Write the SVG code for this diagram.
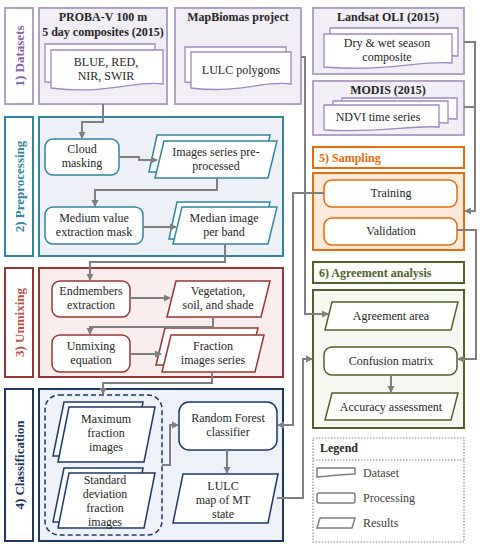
<svg xmlns="http://www.w3.org/2000/svg" width="485" height="550" viewBox="0 0 485 550">
<defs>
<marker id="ah" markerWidth="8" markerHeight="8" refX="6" refY="4" orient="auto" markerUnits="userSpaceOnUse">
<path d="M0,0.5 L7,4 L0,7.5 Z" fill="#7f7f7f"/>
</marker>
</defs>
<style>
text{font-family:"Liberation Serif","Times New Roman",serif;font-size:12px;fill:#262626}
.c{text-anchor:middle}
.b{font-weight:bold}
.lab{font-weight:bold;font-size:13px;text-anchor:middle}
.pu{fill:#f1eef6;stroke:#b3a2c7;stroke-width:2}
.pul{fill:#fff;stroke:#b3a2c7;stroke-width:2}
.doc{fill:#fff;stroke:#9d88c0;stroke-width:1.3}
.te{fill:#edf1f7;stroke:#31859c;stroke-width:2}
.tel{fill:#fff;stroke:#31859c;stroke-width:2}
.ten{fill:#fff;stroke:#31859c;stroke-width:1.5}
.re{fill:#f9ecec;stroke:#953735;stroke-width:2}
.rel{fill:#fff;stroke:#953735;stroke-width:2}
.ren{fill:#fff;stroke:#953735;stroke-width:1.5}
.na{fill:#eef2f8;stroke:#1f3864;stroke-width:2}
.nal{fill:#fff;stroke:#1f3864;stroke-width:2}
.nan{fill:#fff;stroke:#1f3864;stroke-width:1.5}
.or{fill:#fde9d9;stroke:#e46c0a;stroke-width:2}
.orl{fill:#fff;stroke:#e46c0a;stroke-width:2}
.orn{fill:#fff;stroke:#e46c0a;stroke-width:1.5}
.gr{fill:#f6f7f0;stroke:#4f6228;stroke-width:2}
.grl{fill:#fff;stroke:#4f6228;stroke-width:2}
.grn{fill:#fff;stroke:#4f6228;stroke-width:1.5}
.lg{fill:#fff;stroke:#7f7f7f;stroke-width:1.5}
.cn path{fill:none;stroke:#7f7f7f;stroke-width:2}
.ar{marker-end:url(#ah)}
</style>

<!-- Section labels -->
<g id="label-datasets">
<rect x="5" y="8" width="28" height="96" class="pul"/>
<text class="lab" style="fill:#8064a2" transform="translate(23.5,56) rotate(-90)">1) Datasets</text>
</g>
<g id="label-preprocessing">
<rect x="5" y="117" width="28" height="139" class="tel"/>
<text class="lab" style="fill:#31859c" transform="translate(23.5,186.5) rotate(-90)">2) Preprocessing</text>
</g>
<g id="label-unmixing">
<rect x="5" y="268" width="28" height="109" class="rel"/>
<text class="lab" style="fill:#c0504d" transform="translate(23.5,322.5) rotate(-90)">3) Unmixing</text>
</g>
<g id="label-classification">
<rect x="5" y="389" width="28" height="152" class="nal"/>
<text class="lab" style="fill:#1f3864" transform="translate(23.5,465) rotate(-90)">4) Classification</text>
</g>

<!-- Datasets -->
<g id="proba">
<rect x="39" y="8" width="128" height="96" class="pu"/>
<text class="c b" x="103" y="21">PROBA-V 100 m</text>
<text class="c b" x="103" y="36">5 day composites (2015)</text>
<path class="doc" d="M45,44 H155 V80 C120,78 90,86 45,82 Z"/>
<path class="doc" d="M51,50 H163 V84 C135,80 110,95 51,88 Z"/>
<text class="c" x="106" y="66">BLUE, RED,</text>
<text class="c" x="106" y="80">NIR, SWIR</text>
</g>
<g id="mapbiomas">
<rect x="175" y="8" width="126" height="96" class="pu"/>
<text class="c b" x="238" y="21">MapBiomas project</text>
<path class="doc" d="M185,47 H286 V80 C260,78 220,86 185,82 Z"/>
<path class="doc" d="M191,52 H291 V84 C265,80 240,94 191,88 Z"/>
<text class="c" x="241" y="74">LULC polygons</text>
</g>
<g id="landsat">
<rect x="313" y="8" width="151" height="66" class="pu"/>
<text class="c b" x="388" y="21">Landsat OLI (2015)</text>
<path class="doc" d="M330,28 H458 V56 C430,54 400,62 330,58 Z"/>
<path class="doc" d="M324,34 H452 V63 C420,60 390,72 324,67 Z"/>
<text class="c" x="387" y="47">Dry &amp; wet season</text>
<text class="c" x="387" y="61">composite</text>
</g>
<g id="modis">
<rect x="313" y="81" width="151" height="54" class="pu"/>
<text class="c b" x="388" y="94">MODIS (2015)</text>
<path class="doc" d="M342,98 H457 V119 C430,117 400,123 342,121 Z"/>
<path class="doc" d="M333,101 H448 V123 C420,121 390,127 333,125 Z"/>
<path class="doc" d="M324,105 H439 V127 C410,125 380,133 324,130 Z"/>
<text class="c" x="378" y="121">NDVI time series</text>
</g>

<!-- Preprocessing -->
<g id="preprocessing">
<rect x="39" y="117" width="244" height="139" class="te"/>
</g>
<g id="cloud-masking">
<rect x="45" y="139" width="74" height="36" rx="8" class="ten"/>
<text class="c" x="82" y="153">Cloud</text>
<text class="c" x="82" y="167">masking</text>
</g>
<g id="images-series">
<path class="ten" d="M157,135 H270 L262,172 H149 Z"/>
<path class="ten" d="M164,141 H277 L268,178 H155 Z"/>
<text class="c" x="216" y="156">Images series pre-</text>
<text class="c" x="216" y="170">processed</text>
</g>
<g id="medium-value">
<rect x="45" y="207" width="98" height="37" rx="8" class="ten"/>
<text class="c" x="94" y="222">Medium value</text>
<text class="c" x="94" y="236">extraction mask</text>
</g>
<g id="median-image">
<path class="ten" d="M177,202 H270 L262,239 H169 Z"/>
<path class="ten" d="M182,207 H277 L268,244 H173 Z"/>
<text class="c" x="224" y="222">Median image</text>
<text class="c" x="224" y="236">per band</text>
</g>

<!-- Unmixing -->
<g id="unmixing">
<rect x="39" y="268" width="244" height="109" class="re"/>
</g>
<g id="endmembers">
<rect x="52" y="281" width="78" height="36" rx="8" class="ren"/>
<text class="c" x="91" y="295">Endmembers</text>
<text class="c" x="91" y="309">extraction</text>
</g>
<g id="vegetation">
<path class="ren" d="M176,281 H270 L261,317 H167 Z"/>
<text class="c" x="218" y="295">Vegetation,</text>
<text class="c" x="218" y="309">soil, and shade</text>
</g>
<g id="unmixing-equation">
<rect x="52" y="335" width="78" height="37" rx="8" class="ren"/>
<text class="c" x="91" y="350">Unmixing</text>
<text class="c" x="91" y="364">equation</text>
</g>
<g id="fraction-images">
<path class="ren" d="M165,328 H258 L249,365 H156 Z"/>
<path class="ren" d="M171,335 H264 L255,372 H162 Z"/>
<text class="c" x="213" y="350">Fraction</text>
<text class="c" x="213" y="364">images series</text>
</g>

<!-- Classification -->
<g id="classification">
<rect x="39" y="389" width="244" height="152" class="na"/>
<rect x="45" y="395" width="117" height="140" rx="14" fill="none" stroke="#1f3864" stroke-width="1.5" stroke-dasharray="5,3"/>
</g>
<g id="maximum-fraction">
<path class="nan" d="M64,402 H143 L133,456 H53 Z"/>
<path class="nan" d="M69,407 H155 L144,462 H58 Z"/>
<text class="c" x="106" y="423">Maximum</text>
<text class="c" x="106" y="437">fraction</text>
<text class="c" x="106" y="451">images</text>
</g>
<g id="std-fraction">
<path class="nan" d="M64,468 H143 L133,522 H53 Z"/>
<path class="nan" d="M69,473 H155 L144,528 H58 Z"/>
<text class="c" x="105" y="484">Standard</text>
<text class="c" x="105" y="498">deviation</text>
<text class="c" x="105" y="512">fraction</text>
<text class="c" x="105" y="526">images</text>
</g>
<g id="random-forest">
<rect x="179" y="402" width="98" height="48" rx="10" class="nan"/>
<text class="c" x="228" y="422">Random Forest</text>
<text class="c" x="228" y="436">classifier</text>
</g>
<g id="lulc-map">
<path class="nan" d="M183,474 H278 L268,523 H173 Z"/>
<text class="c" x="223" y="490">LULC</text>
<text class="c" x="223" y="504">map of MT</text>
<text class="c" x="223" y="518">state</text>
</g>

<!-- Sampling -->
<g id="sampling">
<rect x="313" y="147" width="151" height="21" fill="#fff" stroke="#e46c0a" stroke-width="2"/>
<text class="b" x="319" y="162" style="fill:#e46c0a">5) Sampling</text>
<rect x="313" y="173" width="151" height="77" class="or"/>
</g>
<g id="training">
<rect x="324" y="180" width="133" height="27" rx="8" class="orn"/>
<text class="c" x="391" y="197">Training</text>
</g>
<g id="validation">
<rect x="324" y="218" width="133" height="27" rx="8" class="orn"/>
<text class="c" x="391" y="235">Validation</text>
</g>

<!-- Agreement analysis -->
<g id="agreement">
<rect x="313" y="262" width="151" height="21" fill="#fff" stroke="#4f6228" stroke-width="2"/>
<text class="b" x="319" y="277" style="fill:#4f6228">6) Agreement analysis</text>
<rect x="313" y="290" width="151" height="138" class="gr"/>
</g>
<g id="agreement-area">
<path class="grn" d="M332,302 H458 L451,330 H325 Z"/>
<text class="c" x="391" y="320">Agreement area</text>
</g>
<g id="confusion-matrix">
<rect x="324" y="347" width="133" height="28" rx="8" class="grn"/>
<text class="c" x="391" y="365">Confusion matrix</text>
</g>
<g id="accuracy">
<path class="grn" d="M332,393 H458 L451,420 H325 Z"/>
<text class="c" x="391" y="411">Accuracy assessment</text>
</g>

<!-- Legend -->
<g id="legend">
<rect x="313" y="438" width="151" height="104" fill="#fff" stroke="#8c8c8c" stroke-width="1.2" stroke-dasharray="1.5,1.5"/>
<line x1="313" y1="460" x2="464" y2="460" stroke="#8c8c8c" stroke-width="1.2" stroke-dasharray="1.5,1.5"/>
<text class="b" x="320" y="452">Legend</text>
<path class="lg" d="M317,468 H355 V474 C345,474 330,476 317,477 Z"/>
<text x="363" y="477" style="fill:#404040">Dataset</text>
<rect x="317" y="493" width="38" height="10" rx="2" class="lg"/>
<text x="363" y="502" style="fill:#404040">Processing</text>
<path class="lg" d="M320,518 H355 L352,528 H317 Z"/>
<text x="363" y="527" style="fill:#404040">Results</text>
</g>

<!-- Connectors -->
<g id="connectors" class="cn">
<path class="ar" d="M103,104 V122 H82 V138"/>
<path class="ar" d="M119,157 H139 V160 H157"/>
<path class="ar" d="M217,178 V190 H95 V206"/>
<path class="ar" d="M143,227 H176"/>
<path class="ar" d="M225,244 V262 H90 V280"/>
<path class="ar" d="M130,298 H170"/>
<path class="ar" d="M213,317 V327 H90 V334"/>
<path class="ar" d="M130,354 H161"/>
<path class="ar" d="M212,372 V383 H103 V394"/>
<path class="ar" d="M162,465 H170 V425 H178"/>
<path class="ar" d="M227,450 V473"/>
<path class="ar" d="M324,193 H293 V425 H278"/>
<path class="ar" d="M301,57 H305 V314 H328"/>
<path class="ar" d="M277,498 H303 V359 H312"/>
<path class="ar" d="M464,42 H475 V211 H465"/>
<path d="M464,107 H475"/>
<path class="ar" d="M457,230 H476 V359 H458"/>
<path class="ar" d="M391,375 V392"/>
</g>
</svg>
